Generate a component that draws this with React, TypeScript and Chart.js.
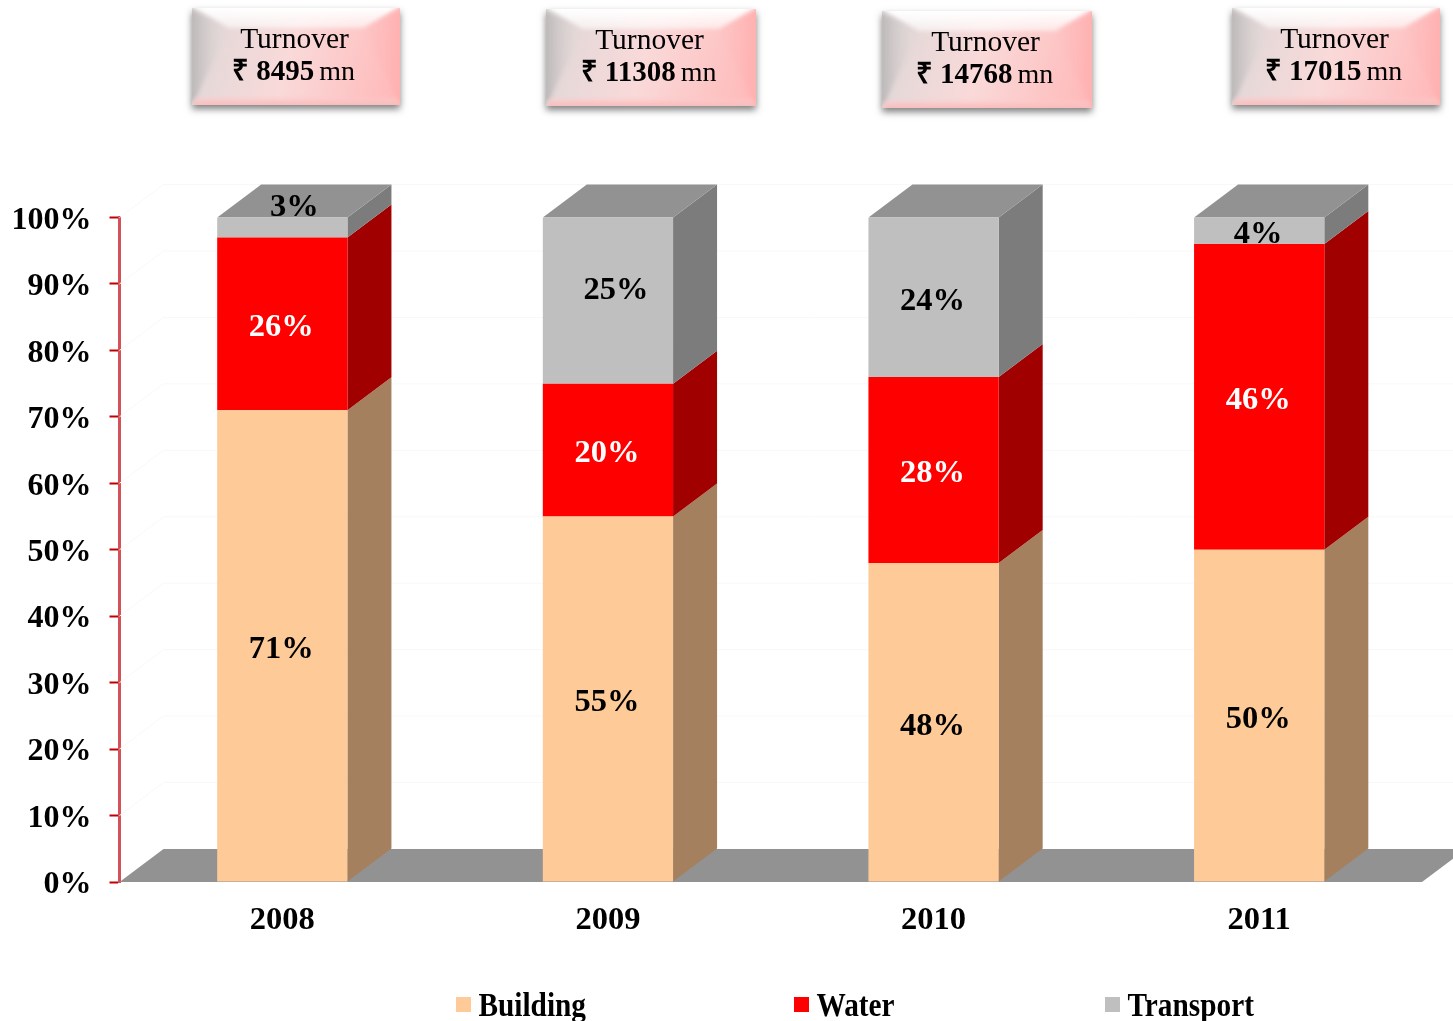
import React, { useEffect, useRef } from "react";
import { Chart, registerables } from "chart.js";

Chart.register(...registerables);

const years = ["2008", "2009", "2010", "2011"];
const building = [71, 55, 48, 50];
const water = [26, 20, 28, 46];
const transport = [3, 25, 24, 4];
const turnover = ["8495", "11308", "14768", "17015"];
const yTicks = [0, 10, 20, 30, 40, 50, 60, 70, 80, 90, 100];

const SERIF = "'Liberation Serif', serif";
const DX = 44;
const DY = -33;
const FLOOR = "#929292";
const sideColors = ["#a5805f", "#a00000", "#7c7c7c"];
const labelColors = ["#000000", "#ffffff", "#000000"];
// nudges of the value labels away from the segment's centre [dx, dy]; key = "dataset:index"
const labelNudge: Record<string, [number, number]> = { "2:0": [13, -24], "2:1": [9, -14] };
// where the turnover plaques sit on the page: x, y, width
const plaqueBox: [number, number, number][] = [[192, 8, 208], [546, 9, 210], [882, 11, 210], [1232, 8, 208]];
const PLAQUE_H = 97;
const legendStarts = [456, 794, 1105];

function poly(ctx: CanvasRenderingContext2D, pts: number[][], fill: string | CanvasGradient) {
  ctx.beginPath();
  pts.forEach((p, i) => (i ? ctx.lineTo(p[0], p[1]) : ctx.moveTo(p[0], p[1])));
  ctx.closePath();
  ctx.fillStyle = fill;
  ctx.fill();
}

function drawPlaque(ctx: CanvasRenderingContext2D, x: number, y: number, w: number, value: string) {
  const h = PLAQUE_H;
  ctx.save();
  ctx.shadowColor = "rgba(0,0,0,0.5)";
  ctx.shadowBlur = 7;
  ctx.shadowOffsetY = 4;
  const base = ctx.createLinearGradient(x, y, x + w, y + h * 0.6);
  base.addColorStop(0, "#ddd8d8");
  base.addColorStop(0.5, "#fad9d9");
  base.addColorStop(1, "#ffbaba");
  ctx.fillStyle = base;
  ctx.fillRect(x, y, w, h);
  ctx.restore();

  ctx.save();
  ctx.beginPath();
  ctx.rect(x, y, w, h);
  ctx.clip();
  ctx.filter = "blur(2px)";
  const bx = 36, by = 20, bb = 7, side = 4;
  const top = ctx.createLinearGradient(0, y, 0, y + by);
  top.addColorStop(0, "#ffffff");
  top.addColorStop(1, "rgba(255,255,255,0.55)");
  poly(ctx, [[x - 4, y - 4], [x + w + 4, y - 4], [x + w - bx, y + by], [x + bx, y + by]], top);
  const left = ctx.createLinearGradient(x, 0, x + bx, 0);
  left.addColorStop(0, "#bdb8b8");
  left.addColorStop(1, "rgba(225,218,218,0.1)");
  poly(ctx, [[x - 4, y], [x + bx, y + by], [x + side, y + h - bb], [x - 4, y + h]], left);
  const right = ctx.createLinearGradient(x + w - bx, 0, x + w, 0);
  right.addColorStop(0, "rgba(255,190,190,0.1)");
  right.addColorStop(1, "#ffb0b0");
  poly(ctx, [[x + w + 4, y], [x + w - bx, y + by], [x + w - side, y + h - bb], [x + w + 4, y + h]], right);
  const bottom = ctx.createLinearGradient(0, y + h - bb, 0, y + h);
  bottom.addColorStop(0, "rgba(255,205,205,0.6)");
  bottom.addColorStop(1, "#f6baba");
  poly(ctx, [[x, y + h + 3], [x + side, y + h - bb], [x + w - side, y + h - bb], [x + w, y + h + 3]], bottom);
  ctx.restore();

  ctx.fillStyle = "#000";
  ctx.textBaseline = "alphabetic";
  ctx.textAlign = "left";
  const cx = x + w / 2 - 1.5;
  ctx.font = `29.5px ${SERIF}`;
  const t = "Turnover";
  ctx.fillText(t, cx - ctx.measureText(t).width / 2, y + 40);

  const rupee = "\u20B9";
  const boldNum = ` ${value}`;
  const unit = " mn";
  ctx.font = `bold 29px ${SERIF}`;
  const w1 = ctx.measureText(rupee + boldNum).width;
  ctx.font = `28px ${SERIF}`;
  const w2 = ctx.measureText(unit).width;
  let tx = cx - (w1 + w2) / 2;
  ctx.font = `bold 29px ${SERIF}`;
  ctx.fillText(rupee + boldNum, tx, y + 72);
  tx += w1 - 2;
  ctx.font = `28px ${SERIF}`;
  ctx.fillText(unit, tx, y + 72);
}

const scene3d = {
  id: "scene3d",
  beforeDatasetsDraw(chart: any) {
    const { ctx, chartArea: a, scales } = chart;
    ctx.save();
    // faint back-wall gridlines
    ctx.strokeStyle = "#f8f8f8";
    ctx.lineWidth = 1;
    yTicks.forEach((v) => {
      if (v === 0) return;
      const y = scales.y.getPixelForValue(v);
      ctx.beginPath();
      ctx.moveTo(a.left, y);
      ctx.lineTo(a.left + DX, y + DY);
      ctx.lineTo(a.right + DX, y + DY);
      ctx.stroke();
    });
    // floor
    poly(ctx, [[a.left, a.bottom], [a.left + DX, a.bottom + DY], [a.right + DX, a.bottom + DY], [a.right, a.bottom]], FLOOR);
    // side and top faces
    chart.data.datasets.forEach((_: any, di: number) => {
      chart.getDatasetMeta(di).data.forEach((bar: any) => {
        const { x, y, base, width } = bar.getProps(["x", "y", "base", "width"], true);
        const r = x + width / 2;
        poly(ctx, [[r, y], [r + DX, y + DY], [r + DX, base + DY], [r, base]], sideColors[di]);
      });
    });
    const lastMeta = chart.getDatasetMeta(chart.data.datasets.length - 1);
    lastMeta.data.forEach((bar: any) => {
      const { x, y, width } = bar.getProps(["x", "y", "width"], true);
      const l = x - width / 2;
      const r = x + width / 2;
      poly(ctx, [[l, y], [l + DX, y + DY], [r + DX, y + DY], [r, y]], FLOOR);
    });
    ctx.restore();
  },
  afterDatasetsDraw(chart: any) {
    const { ctx } = chart;
    ctx.save();
    ctx.font = `bold 32.5px ${SERIF}`;
    ctx.textAlign = "center";
    ctx.textBaseline = "middle";
    chart.data.datasets.forEach((ds: any, di: number) => {
      ctx.fillStyle = labelColors[di];
      chart.getDatasetMeta(di).data.forEach((bar: any, i: number) => {
        const { x, y, base } = bar.getProps(["x", "y", "base"], true);
        const n = labelNudge[`${di}:${i}`] || [0, 0];
        ctx.fillText(`${ds.data[i]}%`, x - 1 + n[0], (y + base) / 2 + 4 + n[1]);
      });
    });
    ctx.restore();
  },
  afterDraw(chart: any) {
    const { ctx } = chart;
    ctx.save();
    turnover.forEach((v, i) => drawPlaque(ctx, plaqueBox[i][0], plaqueBox[i][1], plaqueBox[i][2], v));
    // legend
    chart.data.datasets.forEach((ds: any, di: number) => {
      const x = legendStarts[di];
      ctx.fillStyle = ds.backgroundColor;
      ctx.fillRect(x, 997, 15, 15);
      ctx.fillStyle = "#000";
      ctx.font = `bold 29.3px ${SERIF}`;
      ctx.textAlign = "left";
      ctx.textBaseline = "alphabetic";
      ctx.save();
      ctx.translate(x + 22.5, 1016);
      ctx.scale(1, 1.15);
      ctx.fillText(ds.label, 0, 0);
      ctx.restore();
    });
    ctx.restore();
  },
};

export default function App() {
  const ref = useRef<HTMLCanvasElement>(null);
  useEffect(() => {
    if (!ref.current) return;
    const chart = new Chart(ref.current, {
      type: "bar",
      data: {
        labels: years,
        datasets: [
          { label: "Building", data: building, backgroundColor: "#FECB98" },
          { label: "Water", data: water, backgroundColor: "#FF0000" },
          { label: "Transport", data: transport, backgroundColor: "#BFBFBF" },
        ],
      },
      plugins: [scene3d],
      options: {
        responsive: false,
        animation: false,
        layout: { padding: { top: 217.5, right: 31, left: 0, bottom: 0 } },
        plugins: { legend: { display: false }, tooltip: { enabled: false }, title: { display: false } },
        datasets: { bar: { barPercentage: 0.8, categoryPercentage: 0.5, borderWidth: 0 } },
        scales: {
          x: {
            stacked: true,
            grid: { display: false },
            border: { display: false },
            ticks: { color: "#000", font: { family: SERIF, size: 32.5, weight: "bold" }, padding: 11, maxRotation: 0 },
            afterFit: (s: any) => { s.height = 139; },
          },
          y: {
            stacked: true,
            min: 0,
            max: 100,
            ticks: {
              stepSize: 10,
              color: "#000",
              font: { family: SERIF, size: 32, weight: "bold" },
              padding: 18,
              labelOffset: 3,
              callback: (v: any) => `${v}%`,
            },
            grid: { drawOnChartArea: false, drawTicks: true, tickLength: 10, tickColor: "#c00000", tickWidth: 2 },
            border: { display: true, color: "rgba(205,50,60,0.85)", width: 3 },
            afterFit: (s: any) => { s.width = 119.5; },
          },
        },
      },
    } as any);
    return () => chart.destroy();
  }, []);
  return (
    <canvas
      ref={ref}
      width={1453}
      height={1021}
      style={{ position: "absolute", left: 0, top: 0, display: "block", width: 1453, height: 1021, background: "#fff" }}
    />
  );
}
